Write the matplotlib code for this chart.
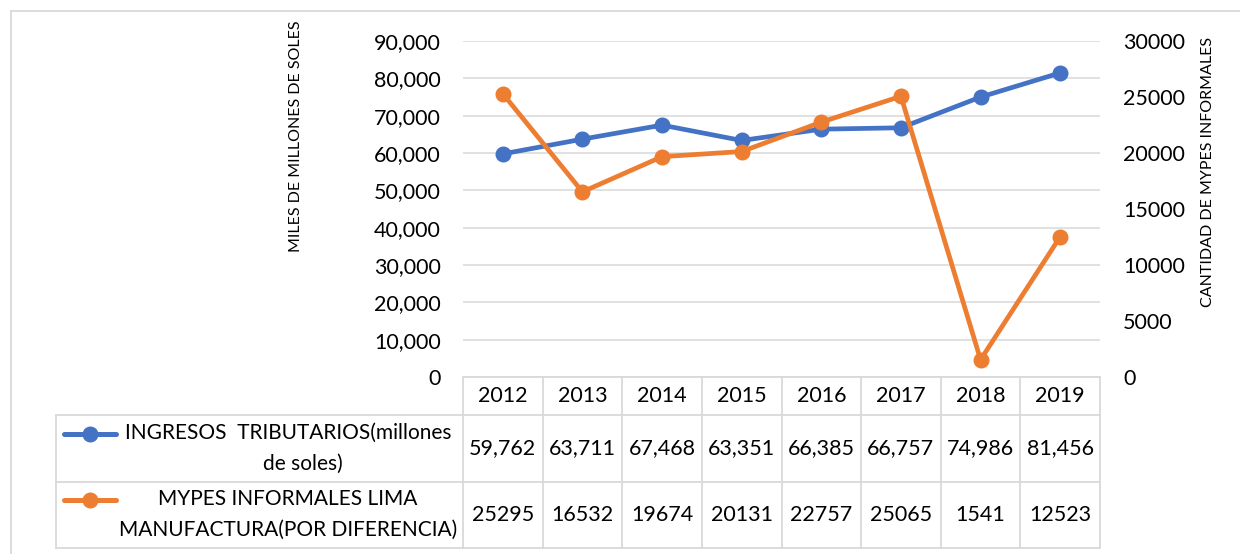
import matplotlib
matplotlib.use("Agg")
import matplotlib.pyplot as plt

plt.rcParams['font.family'] = ['Lato', 'DejaVu Sans']

years = ["2012", "2013", "2014", "2015", "2016", "2017", "2018", "2019"]
ingresos = [59762, 63711, 67468, 63351, 66385, 66757, 74986, 81456]
mypes = [25295, 16532, 19674, 20131, 22757, 25065, 1541, 12523]
series1_label = ["INGRESOS  TRIBUTARIOS(millones", "de soles)"]
series2_label = ["MYPES INFORMALES LIMA", "MANUFACTURA(POR DIFERENCIA)"]
left_ticks = list(range(0, 90001, 10000))
right_ticks = list(range(0, 30001, 5000))

BLUE = "#4472C4"
ORANGE = "#ED7D31"
GRID = "#D9D9D9"
TXT = "#000000"

W, H = 1240, 554
fig = plt.figure(figsize=(W / 100, H / 100), dpi=100)

# pixel-space overlay axes
ov = fig.add_axes([0, 0, 1, 1], zorder=0)
ov.set_xlim(0, W)
ov.set_ylim(H, 0)
ov.axis('off')

fs = 15.5
fs_lab = 15

# plot area
L, R, T, B = 463, 1100, 41, 377
ax = fig.add_axes([L / W, (H - B) / H, (R - L) / W, (B - T) / H], zorder=2)
ax.patch.set_alpha(0)
x = list(range(len(years)))
ax.set_xlim(-0.5, len(years) - 0.5)
ax.set_ylim(0, 90000)
ax.set_yticks(left_ticks)
ax.set_yticklabels([f"{v:,}" for v in left_ticks])
ax.set_xticks([])
for s in ax.spines.values():
    s.set_visible(False)
ax.tick_params(axis='y', length=0, pad=16, labelsize=fs, labelcolor=TXT)
for v in left_ticks:
    ax.axhline(v, color=GRID, lw=1.1, zorder=0)

ax.plot(x, ingresos, color=BLUE, lw=3.4, marker='o', ms=10.5, zorder=3,
        solid_capstyle='round')

ax2 = ax.twinx()
ax2.set_ylim(0, 30000)
ax2.set_yticks(right_ticks)
ax2.set_yticklabels([str(v) for v in right_ticks])
for s in ax2.spines.values():
    s.set_visible(False)
ax2.tick_params(axis='y', length=0, pad=16.5, labelsize=fs, labelcolor=TXT)
ax2.plot(x, mypes, color=ORANGE, lw=3.4, marker='o', ms=10.5, zorder=4,
         solid_capstyle='round')

# axis titles
fig.text(296 / W, 1 - 136 / H, "MILES DE MILLONES DE SOLES", rotation=90,
         ha='center', va='center', fontsize=11.5, color=TXT)
fig.text(1208 / W, 1 - 172 / H, "CANTIDAD DE MYPES INFORMALES", rotation=90,
         ha='center', va='center', fontsize=11.5, color=TXT)

# outer chart border
ov.plot([11, 11], [11, H + 5], color=GRID, lw=1.3)
ov.plot([11, W + 5], [11, 11], color=GRID, lw=1.3)

# data table
fig.canvas.draw()
def col_px(i):
    return ax.transData.transform((i - 0.5, 0))[0]

bounds = [col_px(i) for i in range(len(years) + 1)]
centers = [(bounds[i] + bounds[i + 1]) / 2 for i in range(len(years))]
TL = 56
y_head_top, y_head_bot, y_r1, y_r2 = 377, 415, 482, 548
lw_t = 1.3
ov.plot([bounds[0], bounds[-1]], [y_head_top, y_head_top], color=GRID, lw=lw_t)
for yy in (y_head_bot, y_r1, y_r2):
    ov.plot([TL, bounds[-1]], [yy, yy], color=GRID, lw=lw_t)
for bx in bounds:
    ov.plot([bx, bx], [y_head_top, y_r2], color=GRID, lw=lw_t)
ov.plot([TL, TL], [y_head_bot, y_r2], color=GRID, lw=lw_t)

for cx, yr, a, b in zip(centers, years, ingresos, mypes):
    ov.text(cx, (y_head_top + y_head_bot) / 2, yr, ha='center', va='center',
            fontsize=fs, color=TXT)
    ov.text(cx, (y_head_bot + y_r1) / 2, f"{a:,}", ha='center', va='center',
            fontsize=fs, color=TXT)
    ov.text(cx, (y_r1 + y_r2) / 2, f"{b}", ha='center', va='center',
            fontsize=fs, color=TXT)

# row labels with legend keys
label_cx = 288
for (lines, color, y0, y1) in ((series1_label, BLUE, y_head_bot, y_r1),
                               (series2_label, ORANGE, y_r1, y_r2)):
    ym = (y0 + y1) / 2
    ov.plot([64, 116], [ym - 15, ym - 15], color=color, lw=3.6,
            solid_capstyle='round')
    ov.plot([90], [ym - 15], marker='o', ms=10.5, color=color)
    ov.text(label_cx, ym - 16, lines[0], ha='center', va='center',
            fontsize=fs_lab, color=TXT)
    ov.text(label_cx + (15 if color == BLUE else 0), ym + 15, lines[1],
            ha='center', va='center', fontsize=fs_lab, color=TXT)

fig.savefig("out.png", dpi=100)
